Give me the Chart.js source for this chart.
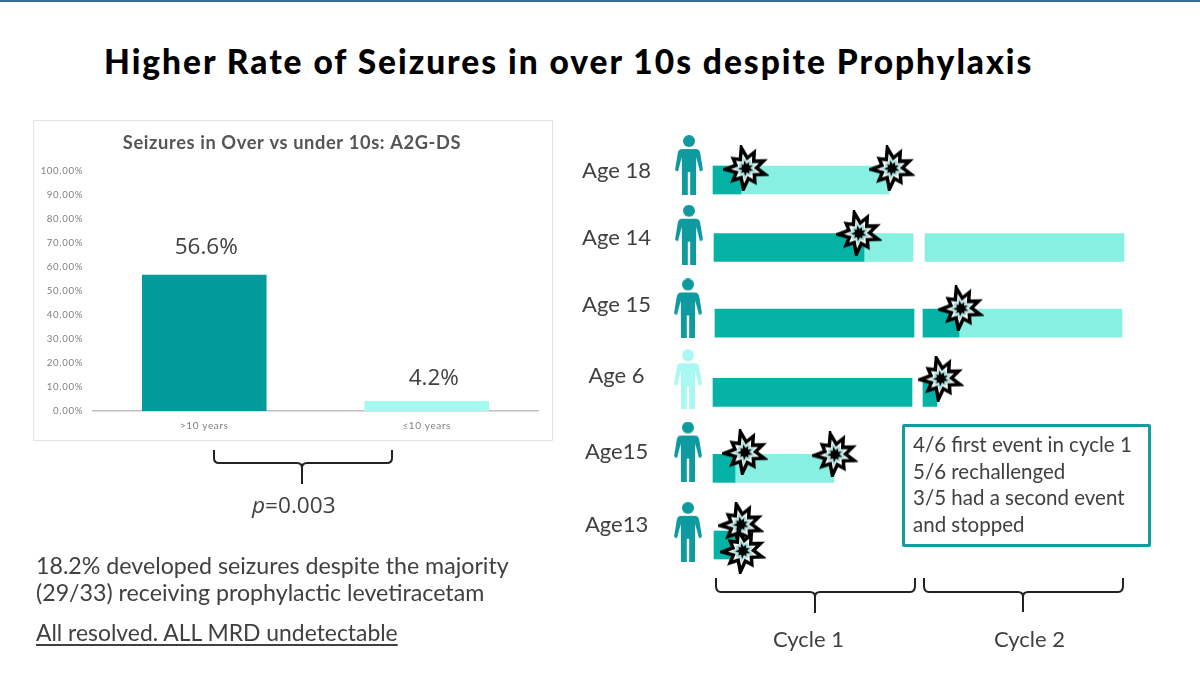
<!DOCTYPE html>
<html>
<head>
<meta charset="utf-8">
<title>Higher Rate of Seizures in over 10s despite Prophylaxis</title>
<script src="https://cdn.jsdelivr.net/npm/chart.js@4"></script>
<style>
  html, body { margin: 0; padding: 0; background: #fff; }
  #slide { position: relative; width: 1200px; height: 673px; overflow: hidden; font-family: Lato, sans-serif; color: #404040; }
  #slide > * { position: absolute; }
  #topline { left: 0; top: 0; width: 1200px; height: 1.5px; background: #356c8f; }
  #title { left: 104px; top: 40px; margin: 0; font-size: 33.5px; line-height: 42px; font-weight: 900; letter-spacing: 1.97px; color: #000; white-space: nowrap; }
  #card { left: 33px; top: 120px; width: 518px; height: 319px; border: 1px solid #e4e4e4; box-sizing: content-box; }
  #barChart { left: 33px; top: 120px; }
  #timeline { left: 559px; top: 106.5px; }
  svg { left: 0; top: 0; }
  .txt { white-space: nowrap; font-size: 23.2px; line-height: 27px; }
  #pval { left: 252px; top: 491px; font-family: "Open Sans", sans-serif; font-size: 22.6px; line-height: 28px; }
  #summary { left: 36px; top: 552px; }
  #resolved { left: 36px; top: 619px; font-size: 22.9px; text-decoration: underline; text-underline-offset: 3px; }
  #box { left: 902px; top: 424px; width: 243px; height: 117px; border: 3px solid #119c9e; border-radius: 2px; }
  #boxtext { left: 913px; top: 431px; font-size: 20.5px; line-height: 26.7px; }
  .cycle { top: 625px; font-size: 22px; line-height: 27px; }
</style>
</head>
<body>
<div id="slide">
  <div id="topline"></div>
  <h1 id="title">Higher Rate of Seizures in over 10s despite Prophylaxis</h1>
  <div id="card"></div>
  <canvas id="barChart" width="520" height="321"></canvas>
  <canvas id="timeline" width="594" height="511"></canvas>
  <svg width="1200" height="673" fill="none" stroke="#222" stroke-width="2">
    <path d="M214 450 v8 q0 5 5 5 h78 q5 0 5 5 q0 -5 5 -5 h80 q5 0 5 -5 v-8 M302 468 v16"/>
    <path d="M716 578 v8 q0 6 5 6 h89 q5 0 5 5 q0 -5 5 -5 h90 q5 0 5 -6 v-8 M815 597 v16"/>
    <path d="M924 578 v8 q0 6 5 6 h89 q5 0 5 5 q0 -5 5 -5 h90 q5 0 5 -6 v-8 M1023 597 v15"/>
  </svg>
  <div id="pval" class="txt"><i>p</i>=0.003</div>
  <div id="summary" class="txt">18.2% developed seizures despite the majority<br>(29/33) receiving prophylactic levetiracetam</div>
  <div id="resolved" class="txt">All resolved. ALL MRD undetectable</div>
  <div id="box"></div>
  <div id="boxtext" class="txt">4/6 first event in cycle 1<br>5/6 rechallenged<br>3/5 had a second event<br>and stopped</div>
  <div class="txt cycle" style="left:773px">Cycle 1</div>
  <div class="txt cycle" style="left:994px">Cycle 2</div>
</div>

<script>
// Left chart: seizure rate by age group
const ageGroups = ['>10 years', '≤10 years'];
const seizureRates = [56.6, 4.2];
const barColors = ['#009b9a', '#a5f9f0'];

// Right chart: one row per patient, x is % of a cycle (cycle 2 starts after a short gap)
const rowLabels = ['Age 18', 'Age 14', 'Age 15', 'Age 6', 'Age15', 'Age13'];
const rowLevels = [1, 1.925, 2.96, 3.91, 4.95, 6];
const labelLevels = [0.87, 1.79, 2.71, 3.68, 4.72, 5.73];
const personLevels = [0.795, 1.75, 2.76, 3.73, 4.72, 5.82];
const personX = [-12, -12, -12.5, -12.5, -12.5, -12.5];
const onTreatment = [[0, 14], [0.5, 75.5], [1, 100.5], [0, 99.5], [0, 11], [0.5, 11]];
const onTreatment2 = [null, null, [105, 123], [105, 112], null, null];
const afterEvent = [[14, 88], [75.5, 100], null, null, [11, 60.5], null];
const afterEvent2 = [null, [106, 205.5], [123, 204.5], null, null, null];
const eventX = [16.5, 89.5, 73, 124, 114, 16, 61, 14, 15];
const eventLevels = [0.84, 0.84, 1.73, 2.76, 3.72, 4.73, 4.76, 5.72, 6.08];

function toBars(...series) {
    const bars = [];
    series.forEach(s => s.forEach((seg, i) => {
        if (seg) bars.push({ x: seg, y: rowLevels[i] });
    }));
    return bars;
}

// Explosion marker used as point style, spikes are uneven like the clip art
function makeStar() {
    const c = document.createElement('canvas');
    c.width = c.height = 46;
    const g = c.getContext('2d');
    const spikes = [1, 0.82, 1.05, 0.88, 1.03, 0.8, 1.05, 0.9, 0.95];
    const star = (ro, ri) => {
        g.beginPath();
        for (let i = 0; i < 18; i++) {
            const r = i % 2 ? ri : ro * spikes[i / 2];
            const a = 0.3 + i * Math.PI / 9;
            g.lineTo(23 + r * Math.cos(a), 23 + r * Math.sin(a));
        }
        g.closePath();
    };
    star(20, 10.5);
    g.fillStyle = '#fff';
    g.fill();
    g.lineJoin = 'miter';
    g.lineWidth = 3.5;
    g.strokeStyle = '#000';
    g.stroke();
    star(11, 7);
    g.fillStyle = 'rgba(40,170,160,0.4)';
    g.fill();
    star(7.5, 4.2);
    g.fillStyle = '#000';
    g.fill();
    return c;
}

// Person icon used as point style
function makePerson(color) {
    const c = document.createElement('canvas');
    c.width = 30;
    c.height = 60;
    const g = c.getContext('2d');
    g.fillStyle = color;
    g.beginPath();
    g.arc(15, 6, 6, 0, Math.PI * 2);
    g.fill();
    g.beginPath();
    g.moveTo(8, 14);
    g.quadraticCurveTo(4.5, 14, 3.8, 18);
    g.lineTo(1, 35);
    g.lineTo(4, 36.5);
    g.lineTo(7.8, 22);
    g.lineTo(8, 60);
    g.lineTo(13.8, 60);
    g.lineTo(13.8, 37);
    g.lineTo(16.2, 37);
    g.lineTo(16.2, 60);
    g.lineTo(22, 60);
    g.lineTo(22.2, 22);
    g.lineTo(26, 36.5);
    g.lineTo(29, 35);
    g.lineTo(26.2, 18);
    g.quadraticCurveTo(25.5, 14, 22, 14);
    g.closePath();
    g.fill();
    return c;
}

const starIcon = makeStar();
const personDark = makePerson('#0f9a9f');
const personPale = makePerson('#a9f8f3');

// Value labels above the bars
const barValueLabels = {
    id: 'barValueLabels',
    afterDatasetsDraw(chart) {
        const ctx = chart.ctx;
        const nudge = [2, 7];
        const lift = [27, 22];
        ctx.save();
        ctx.letterSpacing = '0px';
        ctx.font = '22.5px "Open Sans"';
        ctx.fillStyle = '#404040';
        ctx.textAlign = 'center';
        ctx.textBaseline = 'middle';
        chart.getDatasetMeta(0).data.forEach((bar, i) => {
            ctx.fillText(seizureRates[i].toFixed(1) + '%', bar.x + nudge[i], bar.y - lift[i]);
        });
        ctx.restore();
    }
};

const tracking = {
    id: 'tracking',
    beforeDraw(chart, args, opts) { chart.ctx.letterSpacing = opts.spacing; },
    // tick labels get clipped to the axis box, the left padding would cut "100.00%"
    afterLayout(chart) { chart.scales.y.left = 0; }
};

new Chart(document.getElementById('barChart'), {
    type: 'bar',
    data: {
        labels: ageGroups,
        datasets: [{
            data: seizureRates,
            backgroundColor: barColors,
            categoryPercentage: 1,
            barPercentage: 0.56
        }]
    },
    options: {
        responsive: false,
        animation: false,
        layout: { padding: { left: 13, right: 15 } },
        plugins: {
            legend: { display: false },
            tooltip: { enabled: false },
            tracking: { spacing: '0.6px' },
            title: {
                display: true,
                text: 'Seizures in Over vs under 10s: A2G-DS',
                color: '#555555',
                font: { family: 'Lato', size: 18.3, weight: 'bold', lineHeight: 1.2 },
                padding: { top: 12, bottom: 16.5 }
            }
        },
        scales: {
            y: {
                min: 0,
                max: 100,
                afterFit(axis) { axis.width = 47; },
                border: { display: false },
                grid: { display: false, drawTicks: false },
                ticks: {
                    stepSize: 10,
                    padding: 10,
                    color: '#7f7f7f',
                    font: { family: 'Lato', size: 9.7 },
                    callback: v => v.toFixed(2) + '%'
                }
            },
            x: {
                afterFit(axis) { axis.height = 30; },
                border: { color: '#bfbfbf', width: 1.5 },
                grid: { display: false, drawTicks: false },
                ticks: {
                    padding: 9,
                    color: '#7f7f7f',
                    font: { family: 'Lato', size: 10 }
                }
            }
        }
    },
    plugins: [barValueLabels, tracking]
});

new Chart(document.getElementById('timeline'), {
    type: 'bar',
    data: {
        datasets: [
            {
                type: 'scatter',
                data: eventX.map((x, i) => ({ x: x, y: eventLevels[i] })),
                pointStyle: starIcon,
                pointRadius: 0.2,
                pointBorderWidth: 0,
                order: 0
            },
            {
                type: 'scatter',
                data: personX.map((x, i) => ({ x: x, y: personLevels[i] })),
                pointStyle: rowLabels.map((_, i) => i === 3 ? personPale : personDark),
                pointRadius: 0.2,
                pointBorderWidth: 0,
                order: 0
            },
            {
                data: toBars(onTreatment, onTreatment2),
                backgroundColor: '#05b3a6',
                barThickness: 28,
                grouped: false,
                order: 1
            },
            {
                data: toBars(afterEvent, afterEvent2),
                backgroundColor: '#87f0e2',
                barThickness: 28,
                grouped: false,
                order: 2
            }
        ]
    },
    options: {
        indexAxis: 'y',
        responsive: false,
        animation: false,
        layout: { autoPadding: false },
        plugins: { legend: { display: false }, tooltip: { enabled: false } },
        scales: {
            x: {
                type: 'linear',
                min: -20,
                max: 220,
                display: false
            },
            y: {
                type: 'linear',
                reverse: true,
                offset: false,
                min: 0,
                max: 7,
                afterFit(axis) {
                    axis.width = 114;
                    axis.paddingTop = 0;
                    axis.paddingBottom = 0;
                },
                afterBuildTicks(axis) { axis.ticks = labelLevels.map(v => ({ value: v })); },
                border: { display: false },
                grid: { display: false, drawTicks: false },
                ticks: {
                    autoSkip: false,
                    crossAlign: 'center',
                    padding: 22,
                    color: '#404040',
                    font: { family: 'Lato', size: 22 },
                    callback: (v, i) => rowLabels[i]
                }
            }
        }
    }
});
</script>
</body>
</html>
